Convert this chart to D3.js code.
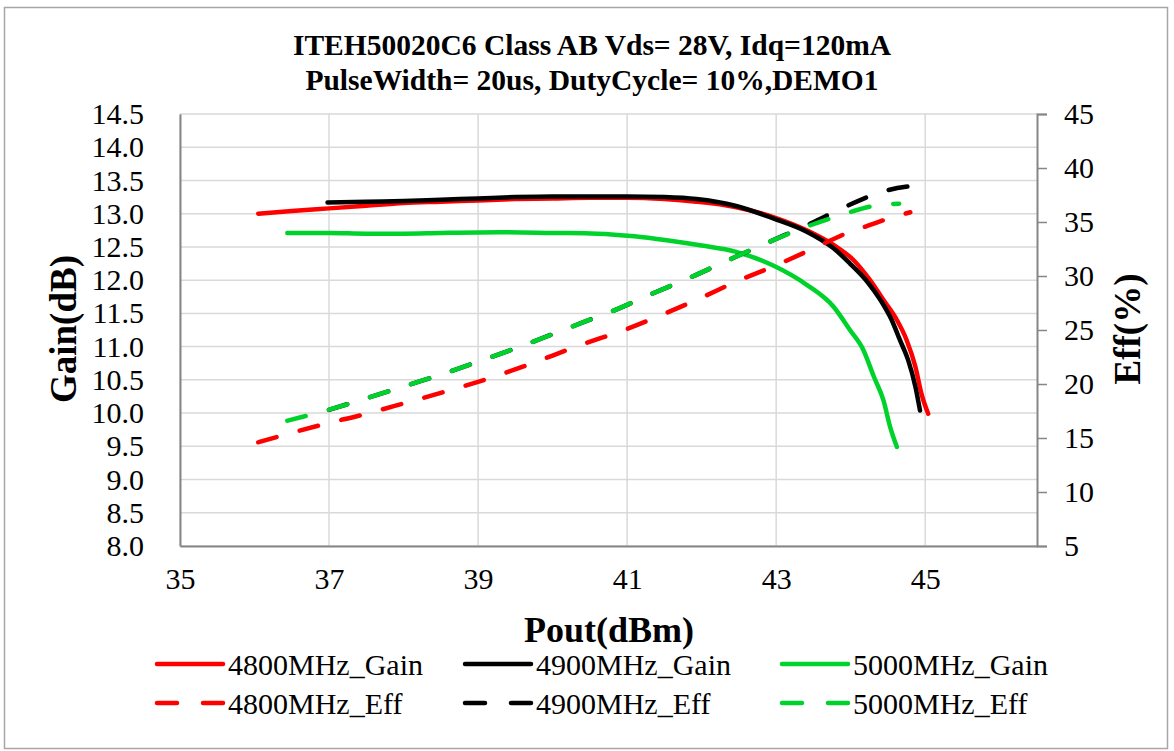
<!DOCTYPE html>
<html>
<head>
<meta charset="utf-8">
<script src="https://cdn.jsdelivr.net/npm/d3@7"></script>
<style>
  html, body { margin: 0; padding: 0; background: #ffffff; }
  svg { display: block; }
</style>
</head>
<body>
<svg id="chart" width="1174" height="751"></svg>
<script>
// ---------------- data ----------------
const titleLines = ["ITEH50020C6 Class AB Vds= 28V, Idq=120mA", "PulseWidth= 20us, DutyCycle= 10%,DEMO1"];
const xTicks = [35, 37, 39, 41, 43, 45];
const yLeftTicks = [8.0, 8.5, 9.0, 9.5, 10.0, 10.5, 11.0, 11.5, 12.0, 12.5, 13.0, 13.5, 14.0, 14.5];
const yRightTicks = [5, 10, 15, 20, 25, 30, 35, 40, 45];

const pout_g4800 = [36.05,36.5,37,37.5,38,38.5,39,39.5,40,40.5,41,41.5,41.93,42.45,42.96,43.41,43.77,44.04,44.26,44.44,44.62,44.75,44.87,44.95,45.04];
const gain4800   = [13.00,13.04,13.08,13.12,13.16,13.18,13.20,13.22,13.23,13.24,13.24,13.22,13.18,13.10,12.95,12.75,12.53,12.30,12.00,11.70,11.40,11.10,10.69,10.29,9.99];

const pout_g4900 = [36.98,37.5,38,38.5,39,39.5,40,40.5,41,41.5,41.93,42.45,42.96,43.41,43.77,43.99,44.22,44.40,44.55,44.66,44.77,44.87,44.93];
const gain4900   = [13.17,13.18,13.19,13.21,13.23,13.25,13.26,13.26,13.26,13.25,13.22,13.12,12.93,12.73,12.48,12.25,11.98,11.70,11.40,11.10,10.80,10.39,10.04];

const pout_g5000 = [36.44,37,37.5,38,38.5,39.3,40,40.6,41.1,41.53,42.0,42.45,42.96,43.41,43.77,43.99,44.17,44.31,44.44,44.53,44.62];
const gain5000   = [12.71,12.71,12.70,12.70,12.71,12.72,12.71,12.70,12.66,12.60,12.52,12.43,12.22,11.93,11.60,11.25,10.95,10.55,10.19,9.79,9.49];

const pout_e4800 = [36.05,37.0,37.42,38.0,38.76,39.0,39.6,40.37,41.0,41.5,42.0,42.47,43.0,43.5,43.96,44.25,44.5,44.8];
const eff4800    = [14.6,16.4,17.1,18.2,19.7,20.2,21.6,23.6,25.1,26.5,28.0,29.5,31.0,32.55,34.0,34.7,35.3,35.9];

const pout_e4900 = [37.0,37.8,38.58,39.41,40.44,40.82,41.35,41.87,42.40,42.92,43.46,43.88,44.24,44.5,44.9];
const eff4900    = [17.6,19.33,21.06,23.07,25.79,26.8,28.4,29.93,31.6,33.2,34.85,36.25,37.35,37.95,38.4];

const pout_e5000 = [36.44,36.97,37.8,38.58,39.41,40.44,40.82,41.35,41.87,42.40,42.92,43.46,43.94,44.28,44.65];
const eff5000    = [16.6,17.57,19.33,21.06,23.07,25.79,26.8,28.4,29.93,31.6,33.2,34.7,35.8,36.45,36.7];

const seriesNames = ["4800MHz_Gain", "4900MHz_Gain", "5000MHz_Gain", "4800MHz_Eff", "4900MHz_Eff", "5000MHz_Eff"];
const seriesColors = ["#ff0000", "#000000", "#00d22c", "#ff0000", "#000000", "#00d22c"];

// ---------------- layout ----------------
const svg = d3.select("#chart");
const FONT = '"Liberation Serif"';
const plot = { left: 180, right: 1037, top: 114, bottom: 546 };

const x = d3.scaleLinear().domain([35, 46.5]).range([plot.left, plot.right]);
const yL = d3.scaleLinear().domain([8, 14.5]).range([plot.bottom, plot.top]);
const yR = d3.scaleLinear().domain([5, 45]).range([plot.bottom, plot.top]);

// outer border
svg.append("rect").attr("x", 4.5).attr("y", 7.5).attr("width", 1163).attr("height", 741)
  .attr("fill", "#fff").attr("stroke", "#a6a6a6").attr("stroke-width", 1.5);

// title
titleLines.forEach((t, i) => {
  svg.append("text").attr("x", 592).attr("y", 55 + i * 35)
    .attr("text-anchor", "middle")
    .style("font-family", FONT).style("font-weight", "bold").style("font-size", "29.5px")
    .attr("fill", "#000").text(t);
});

// gridlines
const grid = svg.append("g");
grid.selectAll("line.h").data(yLeftTicks).join("line")
  .attr("x1", plot.left).attr("x2", plot.right)
  .attr("y1", d => yL(d)).attr("y2", d => yL(d))
  .attr("stroke", "#d9d9d9").attr("stroke-width", 1.5);
grid.selectAll("line.v").data(xTicks).join("line")
  .attr("y1", plot.top).attr("y2", plot.bottom)
  .attr("x1", d => x(d)).attr("x2", d => x(d))
  .attr("stroke", "#d9d9d9").attr("stroke-width", 1.5);

// axes
const axisColor = "#868686";
const gx = svg.append("g").attr("transform", `translate(0,${plot.bottom})`)
  .call(d3.axisBottom(x).tickValues(xTicks).tickSize(0).tickPadding(22).tickFormat(d3.format("d")));
const gl = svg.append("g").attr("transform", `translate(${plot.left},0)`)
  .call(d3.axisLeft(yL).tickValues(yLeftTicks).tickSize(0).tickPadding(36).tickFormat(d3.format(".1f")));
const gr = svg.append("g").attr("transform", `translate(${plot.right},0)`)
  .call(d3.axisRight(yR).tickValues(yRightTicks).tickSize(10).tickPadding(17).tickFormat(d3.format("d")));
[gx, gl, gr].forEach(g => {
  g.select(".domain").attr("stroke", axisColor).attr("stroke-width", 2);
  g.selectAll(".tick line").attr("stroke", axisColor).attr("stroke-width", 1.5);
  g.selectAll(".tick text").style("font-family", FONT).style("font-size", "30px").attr("fill", "#000");
});
gx.selectAll(".tick text").attr("dy", "0.71em");

// axis titles
svg.append("text").attr("transform", "translate(63,329) rotate(-90)")
  .attr("text-anchor", "middle").attr("dominant-baseline", "central")
  .style("font-family", FONT).style("font-weight", "bold").style("font-size", "37px").text("Gain(dB)");
svg.append("text").attr("transform", "translate(1127,329) rotate(-90)")
  .attr("text-anchor", "middle").attr("dominant-baseline", "central")
  .style("font-family", FONT).style("font-weight", "bold").style("font-size", "37px").text("Eff(%)");
svg.append("text").attr("x", 609).attr("y", 630)
  .attr("text-anchor", "middle").attr("dominant-baseline", "central")
  .style("font-family", FONT).style("font-weight", "bold").style("font-size", "36px").text("Pout(dBm)");

// series
const gainLine = d3.line().x(d => x(d[0])).y(d => yL(d[1])).curve(d3.curveMonotoneX);
const effLine = d3.line().x(d => x(d[0])).y(d => yR(d[1])).curve(d3.curveMonotoneX);
const zip = (a, b) => a.map((v, i) => [v, b[i]]);

const gainSeries = [zip(pout_g4800, gain4800), zip(pout_g4900, gain4900), zip(pout_g5000, gain5000)];
const effSeries = [zip(pout_e4800, eff4800), zip(pout_e4900, eff4900), zip(pout_e5000, eff5000)];
const DASH = "19,24";

const marks = svg.append("g");
gainSeries.forEach((s, i) => {
  marks.append("path").attr("d", gainLine(s)).attr("fill", "none")
    .attr("stroke", seriesColors[i]).attr("stroke-width", 4.5)
    .attr("stroke-linecap", "round").attr("stroke-linejoin", "round");
});
effSeries.forEach((s, i) => {
  marks.append("path").attr("d", effLine(s)).attr("fill", "none")
    .attr("stroke", seriesColors[i + 3]).attr("stroke-width", 4.5)
    .attr("stroke-dasharray", DASH)
    .attr("stroke-linecap", "round").attr("stroke-linejoin", "round");
});

// legend
const legendCols = [155, 463, 780];
const legendRows = [664, 703];
seriesNames.forEach((name, i) => {
  const col = i % 3, row = Math.floor(i / 3);
  const lx = legendCols[col], ly = legendRows[row];
  const g = svg.append("g");
  g.append("line").attr("x1", lx + 2).attr("x2", lx + 68).attr("y1", ly).attr("y2", ly)
    .attr("stroke", seriesColors[i]).attr("stroke-width", 4.5)
    .attr("stroke-linecap", "round")
    .attr("stroke-dasharray", row === 1 ? "20,26" : null);
  g.append("text").attr("x", lx + 73).attr("y", ly)
    .attr("dominant-baseline", "central")
    .style("font-family", FONT).style("font-size", "30px").attr("fill", "#000").text(name);
});
</script>
</body>
</html>
